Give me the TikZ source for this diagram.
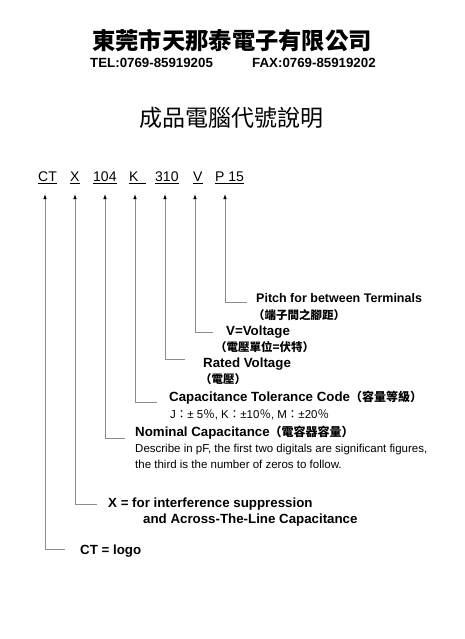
\documentclass[tikz,border=0pt]{standalone}
\usepackage{fontspec}
\setmainfont{Liberation Sans}
\newfontfamily\cjk{Noto Sans CJK TC}
\newcommand{\cj}[1]{{\cjk #1}}
\usetikzlibrary{arrows.meta}
\definecolor{lncol}{gray}{0.55}
\begin{document}
\begin{tikzpicture}[x=1pt,y=-1pt,
  lbl/.style={anchor=base west, inner sep=0, font=\bfseries\fontsize{13.3}{15}\selectfont},
  cjlbl/.style={anchor=base west, inner sep=0, font=\cjk\bfseries\fontsize{11.5}{13}\selectfont},
  note/.style={anchor=base west, inner sep=0, font=\fontsize{11.5}{13}\selectfont},
  codetxt/.style={anchor=base west, inner sep=0, font=\fontsize{14}{16}\selectfont},
  uline/.style={line width=0.7pt},
  lead/.style={draw=lncol, line width=0.8pt, -{Latex[length=5pt,width=3.5pt,color=black]}}]
\fill[white] (0,0) rectangle (464,639);
\useasboundingbox (0,0) rectangle (464,639);
% header
\node[font=\cjk\bfseries\fontsize{23.3}{26}\selectfont, inner sep=0] (title) at (232,41) {東莞市天那泰電子有限公司};
\node[lbl] (tel) at (90,68) {TEL:0769-85919205};
\node[lbl] (fax) at (252,68) {FAX:0769-85919202};
\node[font=\cjk\fontsize{23}{26}\selectfont, inner sep=0] (sub) at (231.5,118) {成品電腦代號說明};
% code line
\node[codetxt] (c1) at (38,182) {CT};
\node[codetxt] (c2) at (70,182) {X};
\node[codetxt] (c3) at (93,182) {104};
\node[codetxt] (c4) at (129,182) {K};
\node[codetxt] (c5) at (155,182) {310};
\node[codetxt] (c6) at (193,182) {V};
\node[codetxt] (c7) at (215,182) {P 15};
\foreach \n in {c1,c2,c3,c5,c6,c7}
  \draw[uline] ([yshift=-1.5pt]\n.base west) -- ([yshift=-1.5pt]\n.base east);
\draw[uline] ([yshift=-1.5pt]c4.base west) -- ([yshift=-1.5pt,xshift=7pt]c4.base east);
% arrow tips
\coordinate (t1) at (45,194);
\coordinate (t2) at (75,194);
\coordinate (t3) at (105,194);
\coordinate (t4) at (135,194);
\coordinate (t5) at (165,194);
\coordinate (t6) at (195,194);
\coordinate (t7) at (225,194);
% leader ends
\coordinate (e7) at (247,302);
\coordinate (e6) at (213,332);
\coordinate (e5) at (185,359);
\coordinate (e4) at (157,402);
\coordinate (e3) at (125,438);
\coordinate (e2) at (97,504);
\coordinate (e1) at (65,549);
\foreach \i in {1,...,7}
  \draw[lead] (e\i) -| (t\i);
% labels
\node[lbl, font=\bfseries\fontsize{12.5}{14}\selectfont] (p1) at (256,302) {Pitch for between Terminals};
\node[cjlbl] (p2) at (253,319) {（端子間之腳距）};
\node[lbl] (v1) at (226,335) {V=Voltage};
\node[cjlbl] (v2) at (215,351) {（電壓單位=伏特）};
\node[lbl] (r1) at (203,367) {Rated Voltage};
\node[cjlbl] (r2) at (200,383) {（電壓）};
\node[lbl] (k1) at (169,401) {Capacitance Tolerance Code\cj{\fontsize{12}{14}\selectfont（容量等級）}};
\node[note] (k2) at (170,418) {J\cj{：}± 5\cj{％}, K\cj{：}±10\cj{％}, M\cj{：}±20\cj{％}};
\node[lbl] (n1) at (135,436) {Nominal Capacitance\cj{\fontsize{12}{14}\selectfont（電容器容量）}};
\node[note] (n2) at (135,452) {Describe in pF, the first two digitals are significant figures,};
\node[note] (n3) at (135,468) {the third is the number of zeros to follow.};
\node[lbl] (x1) at (108,507) {X = for interference suppression};
\node[lbl] (x2) at (143,523) {and Across-The-Line Capacitance};
\node[lbl] (l1) at (80,554) {CT = logo};
\end{tikzpicture}
\end{document}
